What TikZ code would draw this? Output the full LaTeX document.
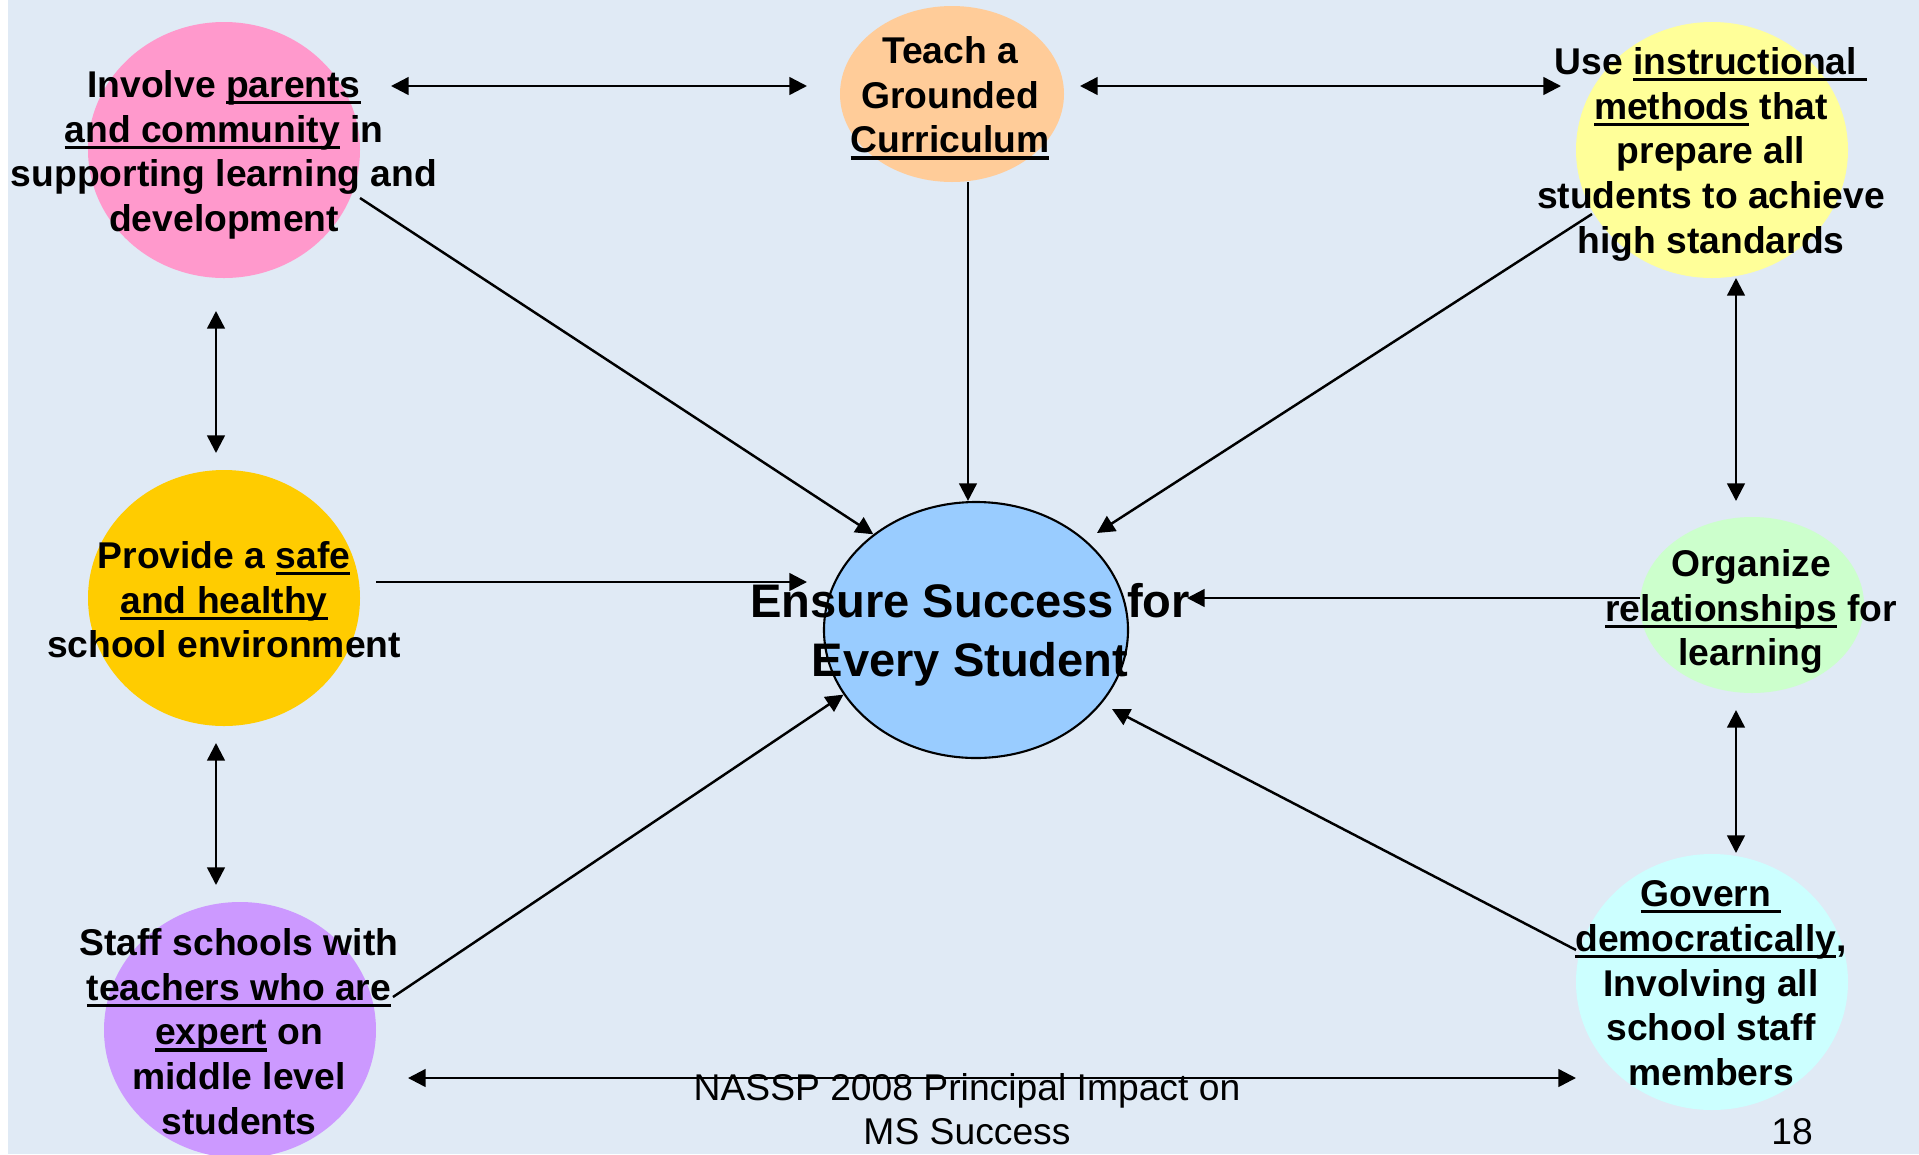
\documentclass[tikz,border=0pt]{standalone}
\usepackage{fontspec}
\setmainfont{Liberation Sans}
\usetikzlibrary{arrows.meta,shapes.geometric}

\definecolor{slidebg}{HTML}{E0EAF5}
\definecolor{pinkc}{HTML}{FF99CC}
\definecolor{peachc}{HTML}{FFCC99}
\definecolor{lemonc}{HTML}{FFFF99}
\definecolor{goldc}{HTML}{FFCC00}
\definecolor{skyc}{HTML}{99CCFF}
\definecolor{mintc}{HTML}{CCFFCC}
\definecolor{lilacc}{HTML}{CC99FF}
\definecolor{icec}{HTML}{CCFFFF}

% underline with a thick rule
\newlength{\ulwd}
\newcommand{\ulword}[1]{\settowidth{\ulwd}{#1}\mbox{\rlap{\rule[-1.9pt]{\ulwd}{0.95pt}}#1}}

\tikzset{
  blob/.style={ellipse, draw=none, inner sep=0pt},
  bigblob/.style={blob, minimum width=2.72cm, minimum height=2.56cm},
  smallblob/.style={blob, minimum width=2.24cm, minimum height=1.76cm},
  hint/.style={font=\bfseries\fontsize{10.6}{12.7}\selectfont, align=center, inner sep=0pt, anchor=north},
  foot/.style={font=\fontsize{10.6}{12.5}\selectfont, align=center, inner sep=0pt, anchor=north},
  link/.style={line width=0.7pt, -{Triangle[length=5pt,width=5pt]}},
  twoway/.style={line width=0.7pt, {Triangle[length=5pt,width=5pt]}-{Triangle[length=5pt,width=5pt]}}
}

\begin{document}
\begin{tikzpicture}
    % Slide background
    \useasboundingbox (0,0) rectangle (19.19,-11.54);
    \fill[white] (0,0) rectangle (19.19,-11.54);
    \fill[slidebg] (0.08,0) rectangle (19.19,-11.54);

    % Circles
    \node[bigblob, fill=pinkc] (parents) at (2.24,-1.50) {};
    \node[smallblob, fill=peachc] (curric) at (9.52,-0.94) {};
    \node[bigblob, fill=lemonc] (methods) at (17.12,-1.50) {};
    \node[bigblob, fill=goldc] (safe) at (2.24,-5.98) {};
    \node[blob, fill=skyc, draw=black, line width=0.6pt, minimum width=3.04cm, minimum height=2.56cm] (goal) at (9.76,-6.30) {};
    \node[smallblob, fill=mintc] (relations) at (17.52,-6.05) {};
    \node[bigblob, fill=lilacc] (staff) at (2.40,-10.30) {};
    \node[bigblob, fill=icec] (govern) at (17.12,-9.82) {};

    % Ends of the two-way arrows
    \coordinate (pc-a) at (3.91,-0.86);
    \coordinate (pc-b) at (8.07,-0.86);
    \coordinate (cm-a) at (10.80,-0.86);
    \coordinate (cm-b) at (15.61,-0.86);
    \coordinate (ps-a) at (2.16,-3.11);
    \coordinate (ps-b) at (2.16,-4.53);
    \coordinate (ss-a) at (2.16,-7.43);
    \coordinate (ss-b) at (2.16,-8.85);
    \coordinate (mr-a) at (17.36,-2.78);
    \coordinate (mr-b) at (17.36,-5.01);
    \coordinate (rg-a) at (17.36,-7.10);
    \coordinate (rg-b) at (17.36,-8.53);
    \coordinate (sg-a) at (4.08,-10.78);
    \coordinate (sg-b) at (15.76,-10.78);

    % Ends of the arrows into the goal
    \coordinate (p-out) at (3.60,-1.98);
    \coordinate (c-out) at (9.68,-1.82);
    \coordinate (m-out) at (15.92,-2.14);
    \coordinate (m-in) at (10.97,-5.33);
    \coordinate (s-out) at (3.76,-5.82);
    \coordinate (s-in) at (8.07,-5.82);
    \coordinate (r-out) at (16.40,-5.98);
    \coordinate (r-in) at (11.87,-5.98);
    \coordinate (t-out) at (3.93,-9.97);
    \coordinate (g-out) at (15.76,-9.50);
    \coordinate (g-in) at (11.12,-7.09);

    % Draw the two-way arrows
    \draw[twoway] (pc-a) -- (pc-b);
    \draw[twoway] (cm-a) -- (cm-b);
    \draw[twoway] (ps-a) -- (ps-b);
    \draw[twoway] (ss-a) -- (ss-b);
    \draw[twoway] (mr-a) -- (mr-b);
    \draw[twoway] (rg-a) -- (rg-b);
    \draw[twoway] (sg-a) -- (sg-b);

    % Draw the arrows into the goal
    \draw[link] (p-out) -- (goal.137);
    \draw[link] (c-out) -- (c-out |- goal.north);
    \draw[link] (m-out) -- (m-in);
    \draw[link] (s-out) -- (s-in);
    \draw[link] (r-out) -- (r-in);
    \draw[link] (t-out) -- (goal.206);
    \draw[link] (g-out) -- (g-in);

    % Labels
    \node[hint] (parents-txt) at (2.24,-0.70) {Involve \ulword{parents}\\\ulword{and community} in\\supporting learning and\\development};
    \node[hint] (curric-txt) at (9.50,-0.36) {Teach a\\Grounded\\\ulword{Curriculum}};
    \node[hint] (methods-txt) at (17.11,-0.47) {Use \ulword{instructional\ }\\\ulword{methods} that\\prepare all\\students to achieve\\high standards};
    \node[hint] (safe-txt) at (2.24,-5.41) {Provide a \ulword{safe}\\\ulword{and healthy}\\school environment};
    \node[hint, font=\bfseries\fontsize{13.4}{16.8}\selectfont] (goal-txt) at (9.70,-5.83) {Ensure Success for\\Every Student};
    \node[hint] (relations-txt) at (17.51,-5.49) {Organize\\\ulword{relationships} for\\learning};
    \node[hint] (staff-txt) at (2.39,-9.28) {Staff schools with\\\ulword{teachers who are}\\\ulword{expert} on\\middle level\\students};
    \node[hint] (govern-txt) at (17.11,-8.80) {\ulword{Govern\ }\\\ulword{democratically},\\Involving all\\school staff\\members};

    % Footer
    \node[foot] (footer) at (9.67,-10.73) {NASSP 2008 Principal Impact on\\MS Success};
    \node[foot] (pagenum) at (17.92,-11.18) {18};
\end{tikzpicture}
\end{document}
